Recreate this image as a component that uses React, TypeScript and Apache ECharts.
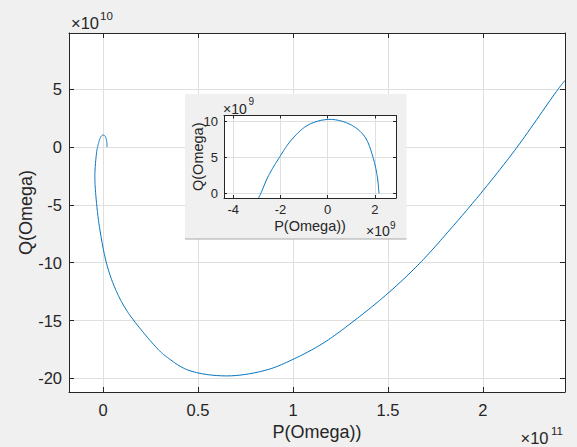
import React, { useEffect, useRef } from "react";
import * as echarts from "echarts";

// Curve points, both in units of 1e9
const P_VALUES = [2.17, 2.1, 1.92, 1.57, 1.0, 0.1, -0.83, -1.54, -2.05, -2.53, -2.83, -3.2, -4.2, -4.2, -3.3, -1.9, 1.84, 6.0, 11.05, 16.4, 28.8, 33.4, 44.7, 65, 86, 100, 115.8, 131.6, 150, 166.7, 182.5, 200, 217.9, 239.5, 243.2];
const Q_VALUES = [0, 2.3, 5.0, 7.9, 9.54, 10.33, 9.54, 7.44, 5.0, 2.3, 0, -2.6, -20, -31.4, -50.1, -68.8, -100.5, -120.7, -137.5, -150.3, -174.5, -181.2, -192.7, -197.8, -192.7, -183.5, -169.6, -150.9, -126.4, -100.5, -71.7, -37.8, -0.3, 49.8, 57.5];

const MAIN_X_RANGE = [-17.9, 243.2];
const MAIN_Y_RANGE = [-211.7, 98.5];
const INSET_X_RANGE = [-4.39, 2.89];
const INSET_Y_RANGE = [-0.65, 10.87];
const MAIN_X_STEP = 50;
const MAIN_Y_STEP = 50;
const INSET_X_STEP = 2;
const INSET_Y_STEP = 5;
const MAIN_X_SCALE = 100; // label = value / 100  (x 1e11)
const MAIN_Y_SCALE = 10; // label = value / 10 (x 1e10)

const X_NAME = "P(Omega))";
const Y_NAME = "Q(Omega)";

const FONT = "'Liberation Sans', Arial, Helvetica, sans-serif";
const INK = "#262626";
const GRID_C = "#dfdfdf";
const LINE_C = "#0072bd";
const BG = "#f0f0f0";

function fmt(v: number, s: number) {
  return String(Math.round((v / s) * 1000) / 1000);
}

// centripetal Catmull-Rom through pixel points (rendering only)
function spline(pts: number[][], steps: number) {
  const n = pts.length;
  if (n < 3) return pts;
  const get = (i: number) => {
    if (i < 0) return [2 * pts[0][0] - pts[1][0], 2 * pts[0][1] - pts[1][1]];
    if (i >= n) return [2 * pts[n - 1][0] - pts[n - 2][0], 2 * pts[n - 1][1] - pts[n - 2][1]];
    return pts[i];
  };
  const knot = (a: number[], b: number[]) => Math.max(Math.pow(Math.hypot(b[0] - a[0], b[1] - a[1]), 0.5), 1e-4);
  const out: number[][] = [pts[0]];
  for (let i = 0; i < n - 1; i++) {
    const p0 = get(i - 1), p1 = get(i), p2 = get(i + 1), p3 = get(i + 2);
    const t0 = 0;
    const t1 = t0 + knot(p0, p1);
    const t2 = t1 + knot(p1, p2);
    const t3 = t2 + knot(p2, p3);
    for (let s = 1; s <= steps; s++) {
      const t = t1 + ((t2 - t1) * s) / steps;
      const lerp = (a: number[], b: number[], ta: number, tb: number) => {
        const u = (t - ta) / (tb - ta);
        return [a[0] + (b[0] - a[0]) * u, a[1] + (b[1] - a[1]) * u];
      };
      const A1 = lerp(p0, p1, t0, t1);
      const A2 = lerp(p1, p2, t1, t2);
      const A3 = lerp(p2, p3, t2, t3);
      const B1 = lerp(A1, A2, t0, t2);
      const B2 = lerp(A2, A3, t1, t3);
      out.push(lerp(B1, B2, t1, t2));
    }
  }
  return out;
}

function axis(gridIndex: number, range: number[], step: number, position: string, primary: boolean, cfg: any) {
  return {
    type: "value",
    gridIndex,
    position,
    min: range[0],
    max: range[1],
    minInterval: step,
    maxInterval: step,
    z: cfg.z,
    name: primary ? cfg.name : "",
    nameLocation: "middle",
    nameGap: cfg.nameGap,
    nameMoveOverlap: false,
    nameTextStyle: { fontFamily: FONT, fontSize: cfg.nameSize, color: INK },
    axisLine: { show: true, onZero: false, lineStyle: { color: INK, width: 1 } },
    axisTick: { show: true, inside: true, length: cfg.tickLen, lineStyle: { color: INK, width: 1 } },
    axisLabel: {
      show: primary,
      showMinLabel: false,
      showMaxLabel: false,
      margin: cfg.labelMargin,
      fontFamily: FONT,
      fontSize: cfg.labelSize,
      color: INK,
      formatter: (v: number) => fmt(v, cfg.scale),
    },
    splitLine: { show: primary, lineStyle: { color: GRID_C, width: 1 } },
  };
}

export default function App() {
  const ref = useRef<HTMLDivElement>(null);
  useEffect(() => {
    document.body.style.margin = "0";
    const chart = echarts.init(ref.current!, null, { renderer: "svg" });
    const data = P_VALUES.map((p, i) => [p, Q_VALUES[i]]);

    const mainX = { z: 0, name: X_NAME, nameGap: 31, nameSize: 18, tickLen: 5, labelMargin: 9, labelSize: 16.5, scale: MAIN_X_SCALE };
    const mainY = { z: 0, name: Y_NAME, nameGap: 34, nameSize: 18, tickLen: 5, labelMargin: 7, labelSize: 16.5, scale: MAIN_Y_SCALE };
    const insX = { z: 12, name: X_NAME, nameGap: 20, nameSize: 14.5, tickLen: 3, labelMargin: 5, labelSize: 13, scale: 1 };
    const insY = { z: 12, name: Y_NAME, nameGap: 19, nameSize: 14.5, tickLen: 3, labelMargin: 6, labelSize: 13, scale: 1 };

    const txt = (text: string, x: number, y: number, size: number) => ({
      type: "text",
      x,
      y,
      z: 20,
      style: {
        text,
        fontFamily: FONT,
        fontSize: size,
        fill: INK,
        align: "left",
        verticalAlign: "middle",
        textAlign: "left",
        textVerticalAlign: "middle",
      },
    });

    const curveSeries = (xi: number, yi: number, z: number) => ({
      type: "custom",
      xAxisIndex: xi,
      yAxisIndex: yi,
      data,
      encode: { x: 0, y: 1 },
      clip: true,
      z,
      renderItem: (params: any, api: any) => {
        if (params.dataIndex !== 0) return null;
        const px = data.map((d) => api.coord(d));
        return {
          type: "polyline",
          shape: { points: spline(px, 16) },
          style: { stroke: LINE_C, lineWidth: 1, fill: null },
          silent: true,
        };
      },
    });

    chart.setOption({
      animation: false,
      backgroundColor: BG,
      grid: [
        { left: 69, top: 33, width: 496, height: 359, show: true, backgroundColor: "#ffffff", borderWidth: 0, containLabel: false, outerBoundsMode: "none" },
        { left: 224, top: 115.5, width: 172, height: 82.5, show: true, backgroundColor: "#ffffff", borderWidth: 0, z: 11, containLabel: false, outerBoundsMode: "none" },
      ],
      xAxis: [
        axis(0, MAIN_X_RANGE, MAIN_X_STEP, "bottom", true, mainX),
        axis(0, MAIN_X_RANGE, MAIN_X_STEP, "top", false, mainX),
        axis(1, INSET_X_RANGE, INSET_X_STEP, "bottom", true, insX),
        axis(1, INSET_X_RANGE, INSET_X_STEP, "top", false, insX),
      ],
      yAxis: [
        axis(0, MAIN_Y_RANGE, MAIN_Y_STEP, "left", true, mainY),
        axis(0, MAIN_Y_RANGE, MAIN_Y_STEP, "right", false, mainY),
        axis(1, INSET_Y_RANGE, INSET_Y_STEP, "left", true, insY),
        axis(1, INSET_Y_RANGE, INSET_Y_STEP, "right", false, insY),
      ],
      series: [curveSeries(0, 0, 2), curveSeries(2, 2, 13)],
      graphic: [
        { type: "rect", z: 10, shape: { x: 185, y: 94, width: 221.5, height: 145 }, style: { fill: BG } },
        { type: "line", z: 10, shape: { x1: 185, y1: 239, x2: 406.5, y2: 239 }, style: { stroke: "#a8a8a8", lineWidth: 1 } },
        txt("×10", 71, 23, 16.5),
        txt("10", 100, 15.5, 11.5),
        txt("×10", 520.5, 437.5, 16.5),
        txt("11", 551, 431, 11.5),
        txt("×10", 223, 109, 14),
        txt("9", 248.5, 101.5, 10),
        txt("×10", 366, 231, 14),
        txt("9", 390, 225.5, 10),
      ],
    });
    return () => chart.dispose();
  }, []);
  return <div ref={ref} style={{ position: "absolute", left: 0, top: 0, width: 577, height: 447 }} />;
}
